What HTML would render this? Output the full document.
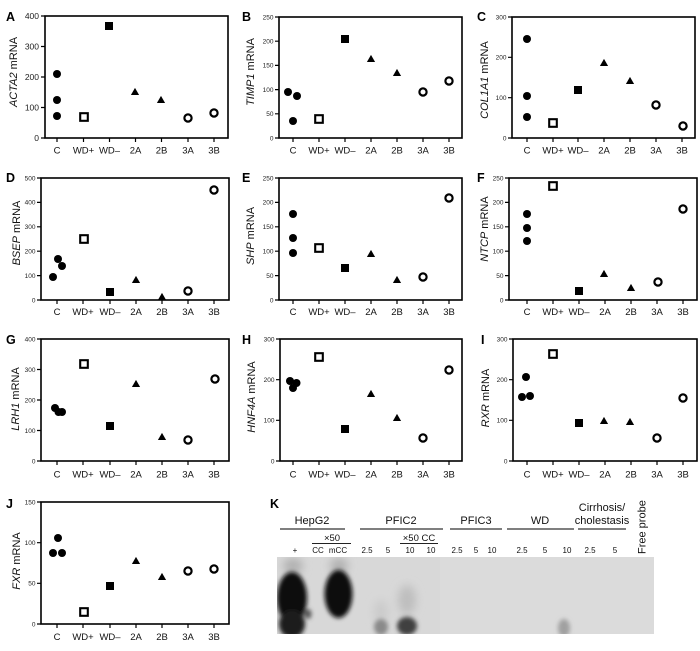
<!DOCTYPE html>
<html><head><meta charset="utf-8">
<style>
html,body{margin:0;padding:0;background:#fff;}
svg{display:block;font-family:"Liberation Sans",Arial,sans-serif;}
.fr{fill:none;stroke:#000;stroke-width:1.6}
.tk{fill:none;stroke:#000;stroke-width:1.2}
.yt{font-size:6.5px;text-anchor:end;fill:#222}
.yt8{font-size:8.5px;text-anchor:end;fill:#222}
.xl{font-size:9.5px;text-anchor:middle;fill:#111}
.yl{font-size:11px;text-anchor:middle;fill:#111}
.pl{font-size:12.5px;font-weight:bold;fill:#000}
.gl{font-size:11px;text-anchor:middle;fill:#111}
.ll{font-size:8px;text-anchor:middle;fill:#111}
.ln{stroke:#555;stroke-width:1.5;fill:none}
</style></head>
<body>
<svg width="700" height="651" viewBox="0 0 700 651" xmlns="http://www.w3.org/2000/svg">
<defs>
<circle id="fc" r="4" fill="#000"/>
<circle id="oc" r="3.6" fill="#fff" stroke="#000" stroke-width="2.2"/>
<rect id="os" x="-3.8" y="-3.8" width="7.6" height="7.6" fill="#fff" stroke="#000" stroke-width="2.1"/>
<rect id="fs" x="-4" y="-4" width="8" height="8" fill="#000"/>
<path id="tr" d="M0,-4.1 L4.1,3 L-4.1,3Z" fill="#000"/>
<filter id="bl" x="-100%" y="-100%" width="300%" height="300%"><feGaussianBlur stdDeviation="2.2"/></filter>
<filter id="bl2" x="-100%" y="-100%" width="300%" height="300%"><feGaussianBlur stdDeviation="4.5"/></filter>
<clipPath id="gc"><rect x="277" y="557" width="377" height="77"/></clipPath>
</defs>
<rect width="700" height="651" fill="#fff"/>

<!-- ============ A ============ -->
<text class="pl" x="6" y="21">A</text>
<rect x="45" y="16" width="183" height="122" class="fr"/>
<path class="tk" d="M41,16H45M41,46.5H45M41,77H45M41,107.5H45M41,138H45M57,138V142M83.5,138V142M109.5,138V142M135.5,138V142M161.5,138V142M188,138V142M214,138V142"/>
<text class="yt8" x="39" y="19">400</text><text class="yt8" x="39" y="49.5">300</text><text class="yt8" x="39" y="80">200</text><text class="yt8" x="39" y="110.5">100</text><text class="yt8" x="39" y="141">0</text>
<g class="xl"><text x="57" y="153.5">C</text><text x="83.5" y="153.5">WD+</text><text x="109.5" y="153.5">WD–</text><text x="135.5" y="153.5">2A</text><text x="161.5" y="153.5">2B</text><text x="188" y="153.5">3A</text><text x="214" y="153.5">3B</text></g>
<text class="yl" transform="translate(17,72) rotate(-90)"><tspan font-style="italic">ACTA2</tspan> mRNA</text>
<use href="#fc" x="57" y="74"/><use href="#fc" x="57" y="100"/><use href="#fc" x="57" y="116"/>
<use href="#os" x="84" y="117"/><use href="#fs" x="109" y="26"/>
<use href="#tr" x="135" y="92"/><use href="#tr" x="161" y="100"/>
<use href="#oc" x="188" y="118"/><use href="#oc" x="214" y="113"/>

<!-- ============ B ============ -->
<text class="pl" x="242" y="21">B</text>
<rect x="279" y="17" width="183" height="121" class="fr"/>
<path class="tk" d="M275,17H279M275,41.2H279M275,65.4H279M275,89.6H279M275,113.8H279M275,138H279M293,138V142M319,138V142M345,138V142M371,138V142M397,138V142M423,138V142M449,138V142"/>
<text class="yt" x="273.5" y="19.3">250</text><text class="yt" x="273.5" y="43.5">200</text><text class="yt" x="273.5" y="67.7">150</text><text class="yt" x="273.5" y="91.9">100</text><text class="yt" x="273.5" y="116.1">50</text><text class="yt" x="273.5" y="140.3">0</text>
<g class="xl"><text x="293" y="153.5">C</text><text x="319" y="153.5">WD+</text><text x="345" y="153.5">WD–</text><text x="371" y="153.5">2A</text><text x="397" y="153.5">2B</text><text x="423" y="153.5">3A</text><text x="449" y="153.5">3B</text></g>
<text class="yl" transform="translate(254,72) rotate(-90)"><tspan font-style="italic">TIMP1</tspan> mRNA</text>
<use href="#fc" x="288" y="92"/><use href="#fc" x="297" y="96"/><use href="#fc" x="293" y="121"/>
<use href="#os" x="319" y="119"/><use href="#fs" x="345" y="39"/>
<use href="#tr" x="371" y="59"/><use href="#tr" x="397" y="73"/>
<use href="#oc" x="423" y="92"/><use href="#oc" x="449" y="81"/>

<!-- ============ C ============ -->
<text class="pl" x="477" y="21">C</text>
<rect x="512" y="17" width="183" height="121" class="fr"/>
<path class="tk" d="M508,17H512M508,57.3H512M508,97.7H512M508,138H512M527,138V142M553,138V142M578,138V142M604,138V142M630,138V142M656,138V142M682,138V142"/>
<text class="yt" x="506.5" y="19.3">300</text><text class="yt" x="506.5" y="59.6">200</text><text class="yt" x="506.5" y="100">100</text><text class="yt" x="506.5" y="140.3">0</text>
<g class="xl"><text x="527" y="153.5">C</text><text x="553" y="153.5">WD+</text><text x="578" y="153.5">WD–</text><text x="604" y="153.5">2A</text><text x="630" y="153.5">2B</text><text x="656" y="153.5">3A</text><text x="682" y="153.5">3B</text></g>
<text class="yl" transform="translate(488,80) rotate(-90)"><tspan font-style="italic">COL1A1</tspan> mRNA</text>
<use href="#fc" x="527" y="39"/><use href="#fc" x="527" y="96"/><use href="#fc" x="527" y="117"/>
<use href="#os" x="553" y="123"/><use href="#fs" x="578" y="90"/>
<use href="#tr" x="604" y="63"/><use href="#tr" x="630" y="81"/>
<use href="#oc" x="656" y="105"/><use href="#oc" x="683" y="126"/>

<!-- ============ D ============ -->
<text class="pl" x="6" y="182">D</text>
<rect x="41" y="178" width="188" height="122" class="fr"/>
<path class="tk" d="M37,178H41M37,202.4H41M37,226.8H41M37,251.2H41M37,275.6H41M37,300H41M57,300V304M83,300V304M110,300V304M136,300V304M162,300V304M188,300V304M214,300V304"/>
<text class="yt" x="35.5" y="180.3">500</text><text class="yt" x="35.5" y="204.7">400</text><text class="yt" x="35.5" y="229.1">300</text><text class="yt" x="35.5" y="253.5">200</text><text class="yt" x="35.5" y="277.9">100</text><text class="yt" x="35.5" y="302.3">0</text>
<g class="xl"><text x="57" y="315">C</text><text x="83" y="315">WD+</text><text x="110" y="315">WD–</text><text x="136" y="315">2A</text><text x="162" y="315">2B</text><text x="188" y="315">3A</text><text x="214" y="315">3B</text></g>
<text class="yl" transform="translate(20,233) rotate(-90)"><tspan font-style="italic">BSEP</tspan> mRNA</text>
<use href="#fc" x="53" y="277"/><use href="#fc" x="58" y="259"/><use href="#fc" x="62" y="266"/>
<use href="#os" x="84" y="239"/><use href="#fs" x="110" y="292"/>
<use href="#tr" x="136" y="280"/><use href="#tr" x="162" y="297"/>
<use href="#oc" x="188" y="291"/><use href="#oc" x="214" y="190"/>

<!-- ============ E ============ -->
<text class="pl" x="242" y="182">E</text>
<rect x="279" y="178" width="183" height="122" class="fr"/>
<path class="tk" d="M275,178H279M275,202.4H279M275,226.8H279M275,251.2H279M275,275.6H279M275,300H279M293,300V304M319,300V304M345,300V304M371,300V304M397,300V304M423,300V304M449,300V304"/>
<text class="yt" x="273.5" y="180.3">250</text><text class="yt" x="273.5" y="204.7">200</text><text class="yt" x="273.5" y="229.1">150</text><text class="yt" x="273.5" y="253.5">100</text><text class="yt" x="273.5" y="277.9">50</text><text class="yt" x="273.5" y="302.3">0</text>
<g class="xl"><text x="293" y="315">C</text><text x="319" y="315">WD+</text><text x="345" y="315">WD–</text><text x="371" y="315">2A</text><text x="397" y="315">2B</text><text x="423" y="315">3A</text><text x="449" y="315">3B</text></g>
<text class="yl" transform="translate(254,236) rotate(-90)"><tspan font-style="italic">SHP</tspan> mRNA</text>
<use href="#fc" x="293" y="214"/><use href="#fc" x="293" y="238"/><use href="#fc" x="293" y="253"/>
<use href="#os" x="319" y="248"/><use href="#fs" x="345" y="268"/>
<use href="#tr" x="371" y="254"/><use href="#tr" x="397" y="280"/>
<use href="#oc" x="423" y="277"/><use href="#oc" x="449" y="198"/>

<!-- ============ F ============ -->
<text class="pl" x="477" y="182">F</text>
<rect x="509" y="178" width="188" height="122" class="fr"/>
<path class="tk" d="M505,178H509M505,202.4H509M505,226.8H509M505,251.2H509M505,275.6H509M505,300H509M527,300V304M553,300V304M579,300V304M605,300V304M631,300V304M657,300V304M683,300V304"/>
<text class="yt" x="503.5" y="180.3">250</text><text class="yt" x="503.5" y="204.7">200</text><text class="yt" x="503.5" y="229.1">150</text><text class="yt" x="503.5" y="253.5">100</text><text class="yt" x="503.5" y="277.9">50</text><text class="yt" x="503.5" y="302.3">0</text>
<g class="xl"><text x="527" y="315">C</text><text x="553" y="315">WD+</text><text x="579" y="315">WD–</text><text x="605" y="315">2A</text><text x="631" y="315">2B</text><text x="657" y="315">3A</text><text x="683" y="315">3B</text></g>
<text class="yl" transform="translate(488,229) rotate(-90)"><tspan font-style="italic">NTCP</tspan> mRNA</text>
<use href="#fc" x="527" y="214"/><use href="#fc" x="527" y="228"/><use href="#fc" x="527" y="241"/>
<use href="#os" x="553" y="186"/><use href="#fs" x="579" y="291"/>
<use href="#tr" x="604" y="274"/><use href="#tr" x="631" y="288"/>
<use href="#oc" x="658" y="282"/><use href="#oc" x="683" y="209"/>

<!-- ============ G ============ -->
<text class="pl" x="6" y="344">G</text>
<rect x="41" y="339" width="188" height="122" class="fr"/>
<path class="tk" d="M37,339H41M37,369.5H41M37,400H41M37,430.5H41M37,461H41M57,461V465M83,461V465M110,461V465M136,461V465M162,461V465M188,461V465M214,461V465"/>
<text class="yt" x="35.5" y="341.3">400</text><text class="yt" x="35.5" y="371.8">300</text><text class="yt" x="35.5" y="402.3">200</text><text class="yt" x="35.5" y="432.8">100</text><text class="yt" x="35.5" y="463.3">0</text>
<g class="xl"><text x="57" y="477.5">C</text><text x="83" y="477.5">WD+</text><text x="110" y="477.5">WD–</text><text x="136" y="477.5">2A</text><text x="162" y="477.5">2B</text><text x="188" y="477.5">3A</text><text x="214" y="477.5">3B</text></g>
<text class="yl" transform="translate(19,399) rotate(-90)"><tspan font-style="italic">LRH1</tspan> mRNA</text>
<use href="#fc" x="55" y="408"/><use href="#fc" x="58.5" y="412"/><use href="#fc" x="62" y="412"/>
<use href="#os" x="84" y="364"/><use href="#fs" x="110" y="426"/>
<use href="#tr" x="136" y="384"/><use href="#tr" x="162" y="437"/>
<use href="#oc" x="188" y="440"/><use href="#oc" x="215" y="379"/>

<!-- ============ H ============ -->
<text class="pl" x="242" y="344">H</text>
<rect x="280" y="339" width="182" height="122" class="fr"/>
<path class="tk" d="M276,339H280M276,379.7H280M276,420.3H280M276,461H280M293,461V465M319,461V465M345,461V465M371,461V465M397,461V465M423,461V465M449,461V465"/>
<text class="yt" x="274.5" y="341.3">300</text><text class="yt" x="274.5" y="382">200</text><text class="yt" x="274.5" y="422.6">100</text><text class="yt" x="274.5" y="463.3">0</text>
<g class="xl"><text x="293" y="477.5">C</text><text x="319" y="477.5">WD+</text><text x="345" y="477.5">WD–</text><text x="371" y="477.5">2A</text><text x="397" y="477.5">2B</text><text x="423" y="477.5">3A</text><text x="449" y="477.5">3B</text></g>
<text class="yl" transform="translate(255,397) rotate(-90)"><tspan font-style="italic">HNF4A</tspan> mRNA</text>
<use href="#fc" x="290" y="381"/><use href="#fc" x="293" y="388"/><use href="#fc" x="296.5" y="383"/>
<use href="#os" x="319" y="357"/><use href="#fs" x="345" y="429"/>
<use href="#tr" x="371" y="394"/><use href="#tr" x="397" y="418"/>
<use href="#oc" x="423" y="438"/><use href="#oc" x="449" y="370"/>

<!-- ============ I ============ -->
<text class="pl" x="481" y="344">I</text>
<rect x="513" y="339" width="184" height="122" class="fr"/>
<path class="tk" d="M509,339H513M509,379.7H513M509,420.3H513M509,461H513M527,461V465M553,461V465M579,461V465M605,461V465M631,461V465M657,461V465M683,461V465"/>
<text class="yt" x="507.5" y="341.3">300</text><text class="yt" x="507.5" y="382">200</text><text class="yt" x="507.5" y="422.6">100</text><text class="yt" x="507.5" y="463.3">0</text>
<g class="xl"><text x="527" y="477.5">C</text><text x="553" y="477.5">WD+</text><text x="579" y="477.5">WD–</text><text x="605" y="477.5">2A</text><text x="631" y="477.5">2B</text><text x="657" y="477.5">3A</text><text x="683" y="477.5">3B</text></g>
<text class="yl" transform="translate(489,398) rotate(-90)"><tspan font-style="italic">RXR</tspan> mRNA</text>
<use href="#fc" x="522" y="397"/><use href="#fc" x="526" y="377"/><use href="#fc" x="530" y="396"/>
<use href="#os" x="553" y="354"/><use href="#fs" x="579" y="423"/>
<use href="#tr" x="604" y="421"/><use href="#tr" x="630" y="422"/>
<use href="#oc" x="657" y="438"/><use href="#oc" x="683" y="398"/>

<!-- ============ J ============ -->
<text class="pl" x="6" y="508">J</text>
<rect x="41" y="502" width="188" height="122" class="fr"/>
<path class="tk" d="M37,502H41M37,542.7H41M37,583.3H41M37,624H41M57,624V628M83,624V628M110,624V628M136,624V628M162,624V628M188,624V628M214,624V628"/>
<text class="yt" x="35.5" y="504.3">150</text><text class="yt" x="35.5" y="545">100</text><text class="yt" x="35.5" y="585.6">50</text><text class="yt" x="35.5" y="626.3">0</text>
<g class="xl"><text x="57" y="640">C</text><text x="83" y="640">WD+</text><text x="110" y="640">WD–</text><text x="136" y="640">2A</text><text x="162" y="640">2B</text><text x="188" y="640">3A</text><text x="214" y="640">3B</text></g>
<text class="yl" transform="translate(20,561) rotate(-90)"><tspan font-style="italic">FXR</tspan> mRNA</text>
<use href="#fc" x="53" y="553"/><use href="#fc" x="58" y="538"/><use href="#fc" x="62" y="553"/>
<use href="#os" x="84" y="612"/><use href="#fs" x="110" y="586"/>
<use href="#tr" x="136" y="561"/><use href="#tr" x="162" y="577"/>
<use href="#oc" x="188" y="571"/><use href="#oc" x="214" y="569"/>

<!-- ============ K ============ -->
<text class="pl" x="270" y="508">K</text>
<g class="gl">
<text x="312" y="524">HepG2</text>
<text x="401" y="524">PFIC2</text>
<text x="476" y="524">PFIC3</text>
<text x="540" y="524">WD</text>
<text x="602" y="511">Cirrhosis/</text>
<text x="602" y="524">cholestasis</text>
</g>
<path class="ln" d="M280,529H345M360,529H443M450,529H502M507,529H574M578,529H626"/>
<text x="332" y="541" style="font-size:9.5px;text-anchor:middle;fill:#111">×50</text>
<text x="419" y="541" style="font-size:9.5px;text-anchor:middle;fill:#111">×50 CC</text>
<path d="M312,543.5H351M400,543.5H438" stroke="#222" stroke-width="1.1"/>
<g class="ll">
<text x="295" y="553">+</text><text x="318" y="553">CC</text><text x="338" y="553">mCC</text>
<text x="367" y="553">2.5</text><text x="388" y="553">5</text><text x="410" y="553">10</text><text x="431" y="553">10</text>
<text x="457" y="553">2.5</text><text x="476" y="553">5</text><text x="492" y="553">10</text>
<text x="522" y="553">2.5</text><text x="545" y="553">5</text><text x="567" y="553">10</text>
<text x="590" y="553">2.5</text><text x="615" y="553">5</text>
</g>
<text transform="translate(645.5,554) rotate(-90)" style="font-size:11px;fill:#111">Free probe</text>

<g clip-path="url(#gc)">
<rect x="277" y="557" width="377" height="77" fill="#d8d8d8"/>
<rect x="440" y="557" width="214" height="77" fill="#dbdbdb"/>
<g filter="url(#bl2)">
<ellipse cx="293" cy="566" rx="10" ry="8" fill="#b0b0b0"/>
<ellipse cx="339" cy="566" rx="9" ry="8" fill="#b0b0b0"/>
<ellipse cx="407" cy="600" rx="9" ry="15" fill="#bebebe"/>
<ellipse cx="381" cy="612" rx="7" ry="12" fill="#cacaca"/>
</g>
<g filter="url(#bl)">
<ellipse cx="292" cy="598" rx="15" ry="26" fill="#111"/>
<ellipse cx="292" cy="624" rx="13" ry="14" fill="#1c1c1c"/>
<ellipse cx="308" cy="614" rx="3.5" ry="5" fill="#555"/>
<ellipse cx="338.5" cy="594" rx="14" ry="24" fill="#111"/>
<ellipse cx="381" cy="627" rx="7" ry="8" fill="#8a8a8a"/>
<ellipse cx="407" cy="626" rx="10" ry="9" fill="#3f3f3f"/>
<ellipse cx="564" cy="628" rx="6" ry="9" fill="#a0a0a0"/>
</g>
</g>
</svg>
</body></html>
